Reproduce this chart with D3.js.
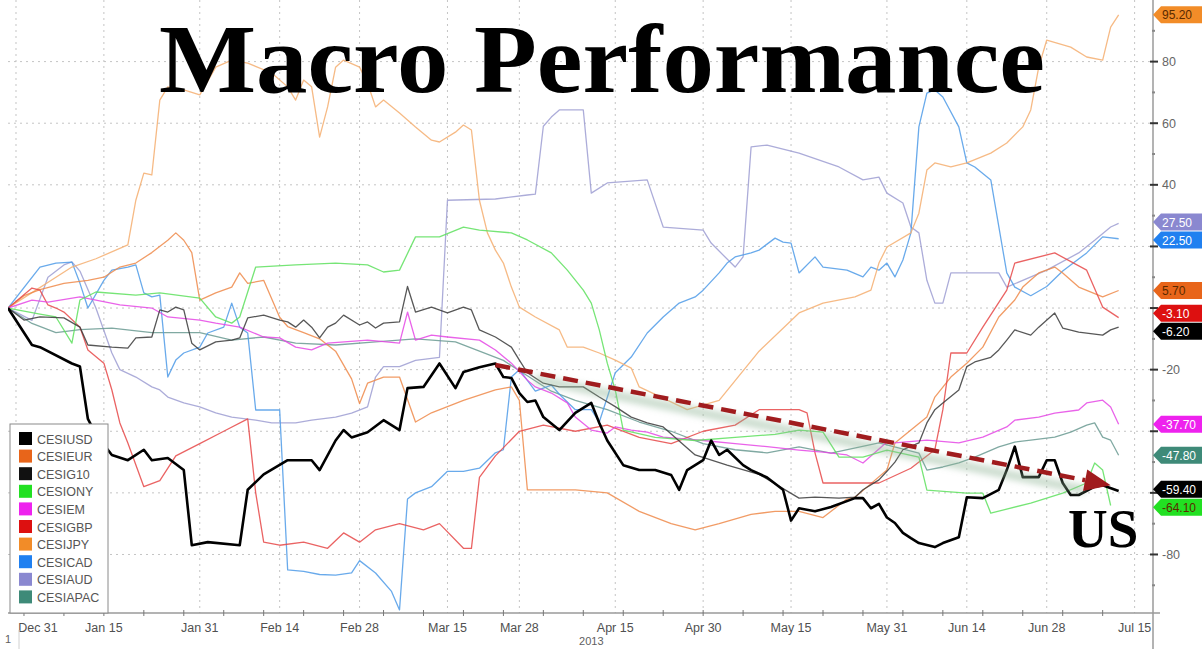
<!DOCTYPE html>
<html><head><meta charset="utf-8">
<script src="https://cdn.jsdelivr.net/npm/d3@7"></script>
<style>
html,body{margin:0;padding:0;background:#fff;}
svg{display:block;}
</style></head><body>
<svg id="chart" width="1202" height="649"></svg>
<script>
// ---------- DATA (t = trading days after Dec 31 2012, v = index value) ----------
const seriesNames = ["CESIUSD","CESIEUR","CESIG10","CESIONY","CESIEM","CESIGBP","CESIJPY","CESICAD","CESIAUD","CESIAPAC"];
const legendColors = ["#000000","#e8651a","#111111","#22e022","#ee22ee","#dd1010","#f28c28","#2080f0","#8a88d0","#3e8a78"];
const lineColors   = ["#000000","#ee8a4a","#3a3a3a","#5ee05e","#e548e5","#e64848","#f5ae70","#4f9be8","#9d9dd2","#6a9a92"];

const usd = [[-1,0],[2,-12],[3,-12.7],[7,-18],[8,-19],[9,-36],[10,-41],[12,-47.7],[14,-49.4],[16,-46],[17,-49.4],[19,-48.7],[21,-52.6],[22,-77],[24,-76],[28,-77],[29,-59],[31,-54],[34,-49.4],[37,-49.4],[38,-52.6],[40,-43],[41,-39.6],[42,-42],[44,-40.3],[46,-36.4],[47,-38],[48,-39.6],[49,-26],[51,-25.6],[53,-18],[55,-26],[56,-20.8],[58,-19.2],[60,-18],[61,-22.4],[62,-22.7],[63,-27.6],[64,-30.5],[65,-30],[66,-35.4],[68,-39.6],[70,-34],[72,-30.8],[73,-37.3],[74,-43],[76,-51],[78,-52.6],[80,-52.6],[82,-54.2],[83,-59],[84,-52.6],[86,-49.4],[87,-43],[88,-47.7],[89,-46],[91,-51],[92,-52.6],[94,-55],[96,-59],[97,-69],[98,-65],[100,-66],[102,-64.6],[105,-61.7],[106,-61.7],[107,-65],[108,-63.6],[109,-68],[110,-69.8],[111,-73],[112,-74.7],[113,-76.3],[115,-77.6],[116,-76.3],[118,-74.4],[119,-61.4],[121,-61.7],[123,-59],[124,-52.6],[125,-45],[126,-54.9],[128,-54.9],[129,-49.4],[130,-49.4],[131,-56.8],[132,-60.7],[133,-60.7],[135,-58],[136,-57.5],[138,-59.4]];
const eur = [[-1,0],[1,4],[3,6],[6,8],[9,9],[11,10],[13,13.3],[15,14.6],[17,18],[19,22],[20,24.4],[21,22],[22,18],[23,2.6],[25,4.9],[27,6.8],[28,11.4],[29,8],[31,9],[33,-3],[34,-6],[36,-8],[38,-10],[40,-14],[42,-23],[43,-31],[44,-24.4],[46,-22.4],[48,-22.4],[50,-37],[52,-34],[56,-30],[60,-26.6],[62,-25.6],[63,-30],[64,-59],[70,-59],[74,-60],[78,-66],[82,-70],[85,-72],[88,-70],[92,-67],[95,-66],[98,-66],[101,-68],[104,-62],[105,-61.4],[107,-57],[109,-52.6],[110,-43.8],[112,-39.6],[114,-35.4],[115,-28.9],[117,-22.4],[119,-17.9],[121,-12.7],[123,-2.9],[125,2.6],[126,6.8],[128,11.4],[130,13.3],[131,11.4],[133,6.8],[136,3.6],[138,5.7]];
const g10 = [[-1,0],[1,-3.9],[3,-2.9],[6,-3.2],[8,-6.2],[9,-12],[12,-12.7],[14,-13],[15,-9.7],[17,-9.4],[18,-0.6],[19,-1.3],[20,0.3],[21,-0.6],[22,-11.4],[23,-13.6],[25,-11],[27,-10.4],[28,-9.7],[29,-3.2],[31,-2.3],[33,-3.9],[34,-4.5],[35,-6.2],[36,-3.9],[37,-6.2],[38,-9.7],[39,-6.2],[40,-4.9],[41,-2.3],[43,-5.5],[44,-4.5],[45,-6.5],[46,-4.9],[48,-4.5],[49,7],[50,-1.3],[52,0.3],[54,-1.6],[56,0.3],[57,-0.6],[58,-7.1],[60,-9.4],[62,-12.7],[63,-16.9],[64,-21],[66,-24.4],[68,-25.6],[71,-25.6],[73,-28.9],[75,-32],[77,-35.4],[79,-37.3],[81,-38.6],[85,-47.7],[89,-51],[93,-54],[98,-61.7],[100,-61.4],[103,-61.7],[105,-61.4],[106,-59],[108,-55.8],[109,-53],[110,-50],[111,-46],[113,-43.8],[114,-37.3],[115,-33],[116,-30.8],[118,-26.6],[119,-19],[120,-17.5],[122,-16],[123,-13.6],[124,-10.4],[125,-7.1],[127,-8.8],[128,-6.2],[130,-1.6],[131,-6.5],[133,-7.8],[136,-8.8],[137,-7.1],[138,-6.2]];
const ony = [[-1,0],[1,-1],[3,-2],[5,-2.9],[7,-11.4],[8,2.6],[10,5.2],[15,4.2],[18,4.9],[23,3.2],[25,-2.9],[27,-4.9],[28,-2.9],[30,13.3],[35,14],[40,14.6],[44,14],[46,11.7],[48,12.3],[50,23.1],[53,23.1],[56,26.3],[58,25.3],[62,24.4],[64,22.1],[67,17.9],[69,12.3],[71,5.8],[72,1.6],[73,-7.1],[74,-17.9],[75,-26.6],[76,-39.6],[80,-42],[85,-43],[90,-42],[95,-41],[98,-39.6],[101,-40.3],[103,-48.4],[106,-48.4],[109,-46.1],[113,-48.4],[114,-59.1],[119,-60.1],[121,-60.1],[122,-66.6],[127,-63.3],[131,-60.1],[134,-56.8],[135,-50.3],[136,-52.6],[137,-64.1]];
const em = [[-1,0],[2,2.6],[4,1.9],[8,3.6],[10,2.6],[13,1],[17,0],[19,-2.9],[23,-3.9],[25,-4.9],[28,-6.2],[31,-9.4],[33,-9.7],[35,-12.7],[37,-13.6],[39,-11.4],[44,-10.4],[48,-11.4],[49,-1.3],[50,-10.4],[52,-8.8],[54,-9.4],[58,-10.4],[60,-13.6],[62,-17.9],[64,-23.4],[65,-25.6],[67,-27.6],[69,-30.8],[70,-35.4],[72,-39.6],[74,-40.6],[75,-38.6],[77,-39.6],[79,-40.3],[81,-41.9],[86,-43],[90,-44],[94,-45],[98,-46.1],[101,-46.8],[104,-47.7],[106,-50.3],[109,-43.5],[110,-43.8],[114,-42.9],[118,-43.8],[121,-41.9],[124,-38.6],[125,-36.4],[128,-35.4],[130,-34.1],[133,-33.1],[134,-30.8],[136,-29.9],[137,-32.1],[138,-37.7]];
const gbp = [[-1,0],[2,6.5],[3,5.8],[4,1],[5,0],[6,-1.3],[8,-6.2],[9,-13.6],[11,-17.9],[12,-26.6],[13,-37.3],[14,-43.8],[16,-58],[18,-56],[20,-48],[23,-44],[26,-40],[29,-36],[30,-60],[31,-76],[33,-77],[36,-76],[39,-78],[41,-73],[43,-76],[45,-72],[48,-70],[51,-72],[53,-70],[56,-78],[57,-78],[58,-55],[60,-48],[63,-40],[66,-38],[70,-40],[74,-38],[78,-42],[82,-44],[86,-40],[90,-38],[93,-33],[98,-33],[99,-34],[100,-47],[101,-56.8],[108,-56.8],[112,-52],[115,-46],[116,-33],[117,-14.6],[119,-14.6],[121,-6.2],[124,5.8],[125,14.6],[130,17.9],[134,12.3],[136,0.3],[138,-3.1]];
const jpy = [[-1,0],[2,5],[5,10],[7,13.3],[10,16],[14,20.5],[15,35],[16,43.8],[17,43.2],[18,67.5],[19,71.8],[21,70.8],[23,69.2],[25,78.2],[27,80.5],[29,79.5],[32,76.3],[34,71.8],[35,67.5],[36,74],[37,71.8],[38,55.5],[39,65.3],[40,78.2],[41,80.5],[43,78.2],[44,73],[45,65.3],[46,67.5],[48,63.3],[50,58.8],[52,54.5],[53,53.9],[55,57.1],[56,59.4],[57,57.8],[58,35],[59,24.4],[60,18.8],[61,14.6],[62,6.8],[63,0.3],[65,-2.9],[68,-7.1],[69,-12.7],[71,-12.7],[73,-14.6],[75,-16.9],[77,-19.5],[78,-25.6],[80,-28],[84,-33],[88,-30],[93,-14],[98,-1.6],[101,1.6],[105,3.6],[107,5.8],[108,14.6],[109,19.8],[112,24.4],[113,30.8],[114,44.8],[115,47.1],[117,45.8],[119,47.1],[122,50.3],[124,53.6],[126,58.8],[127,64.3],[128,78.2],[129,87],[132,84.7],[134,81.5],[136,80.5],[137,91.2],[138,95.2]];
const cad = [[-1,0],[3,13.3],[5,14.6],[7,14.9],[8,8.1],[9,0],[11,9],[12,12.3],[14,13.3],[15,14],[16,4.9],[17,3.6],[18,4.2],[19,-22.4],[20,-16.9],[21,-14.6],[23,-12.7],[24,-8.1],[26,-6.2],[27,1.6],[28,-6.2],[29,-8.1],[30,-33.1],[33,-33.1],[34,-85],[36,-85.5],[38,-86.5],[40,-86.7],[42,-86],[43,-82],[45,-86],[47,-92],[48,-98],[49,-62],[50,-60],[52,-58],[54,-53],[56,-53],[58,-52],[60,-47],[61,-46],[62,-22.4],[63,-20],[65,-27],[67,-25],[68,-28],[70,-33],[72,-33],[73,-37],[75,-21],[77,-15.9],[79,-8.1],[81,-2.9],[83,1.6],[85,3.6],[86,5.8],[88,11.4],[89,14.6],[90,16.6],[92,17.9],[93,18.8],[95,22.7],[96,21.4],[97,21.1],[98,11.4],[100,16.6],[101,13.3],[104,12.3],[106,10.1],[107,13.3],[108,12.3],[109,14.6],[110,10.1],[111,15.6],[112,24.4],[113,58.8],[114,69.8],[115,70.8],[116,68.5],[118,58.8],[119,47.1],[120,45.8],[122,41.6],[124,11.4],[125,6.8],[127,4],[129,7],[131,12],[134,17.9],[136,23.1],[138,22.5]];
const aud = [[-1,0],[2,-4],[4,10],[6,14],[7,15],[8,12],[10,0],[12,-14.6],[13,-20],[15,-22.4],[17,-25.6],[18,-26.6],[19,-28.9],[21,-30.8],[23,-32.1],[25,-34],[27,-35.4],[30,-36.4],[32,-37.3],[35,-37.3],[37,-36.4],[40,-35.4],[42,-34.1],[44,-32.1],[45,-22.4],[46,-19],[48,-19],[50,-17],[53,-16],[54,35],[60,35.4],[64,36.7],[65,37],[66,59],[67,62],[68,64.3],[71,64.3],[72,37.3],[74,40.6],[79,41.6],[81,26.3],[86,25.3],[87,21.1],[90,13.3],[91,16.6],[92,52.3],[94,52.9],[98,50.3],[103,45.8],[106,41.6],[108,42.5],[109,37.3],[111,34.1],[112,26.3],[113,24.4],[114,9],[115,1.6],[116,1.6],[117,11.4],[120,11.4],[123,11.4],[124,6.8],[129,12.3],[133,17.9],[135,22],[137,26.3],[138,27.5]];
const apac = [[-1,0],[2,-5],[5,-8],[8,-7],[12,-6.5],[17,-8],[23,-8],[27,-10.4],[31,-9.4],[35,-11.4],[40,-12],[45,-11],[50,-10],[55,-11],[58,-14],[61,-17],[64,-22],[67,-27],[70,-30],[74,-33],[78,-37],[82,-40],[86,-44],[90,-46],[94,-47],[98,-45.1],[102,-47.1],[108,-43.8],[113,-47.1],[114,-52.6],[116,-51.6],[118,-50.3],[120,-48.4],[123,-45.1],[125,-43.5],[127,-42.9],[130,-41.9],[132,-40.3],[134,-38],[135,-37.3],[136,-41.9],[137,-42.9],[138,-47.8]];
const seriesData = [usd, eur, g10, ony, em, gbp, jpy, cad, aud, apac];
const drawOrder = [8, 9, 7, 6, 1, 5, 4, 3, 2, 0];

// last-value tags on the right axis
const tagSeries = ["CESIJPY","CESIAUD","CESICAD","CESIEUR","CESIGBP","CESIG10","CESIEM","CESIAPAC","CESIUSD","CESIONY"];
const tagValues = [95.20, 27.50, 22.50, 5.70, -3.10, -6.20, -37.70, -47.80, -59.40, -64.10];

const xTickDays   = [0, 11, 23, 33, 43, 54, 63, 75, 86, 97, 109, 119, 129, 140];
const xTickLabels = ["Dec 31","Jan 15","Jan 31","Feb 14","Feb 28","Mar 15","Mar 28","Apr 15","Apr 30","May 15","May 31","Jun 14","Jun 28","Jul 15"];
const yTicks = [80, 60, 40, 20, 0, -20, -40, -60, -80];
const trendFrom = [60, -18.5];
const trendTo = [137, -57.5];

// ---------- CHART ----------
const svg = d3.select("#chart");
const x = d3.scaleLinear().domain([-1, 142.3]).range([8, 1153]);
const y = d3.scaleLinear().domain([-99, 100]).range([613, 0]);

const defs = svg.append("defs");
defs.append("clipPath").attr("id","plotclip").append("rect")
  .attr("x", 8).attr("y", 0).attr("width", 1145).attr("height", 613);
defs.append("filter").attr("id","blur").attr("x","-10%").attr("y","-50%").attr("width","120%").attr("height","200%")
  .append("feGaussianBlur").attr("stdDeviation", 3);

// gridlines
const grid = svg.append("g").attr("stroke", "#c4c4c4").attr("stroke-width", 1).attr("stroke-dasharray", "2,4");
grid.selectAll("line.v").data(xTickDays).join("line")
  .attr("x1", d => x(d)).attr("x2", d => x(d)).attr("y1", 0).attr("y2", 613);
grid.selectAll("line.h").data(yTicks).join("line")
  .attr("x1", 8).attr("x2", 1153).attr("y1", d => y(d)).attr("y2", d => y(d));

// series lines
const lineGen = d3.line().x(d => x(d[0])).y(d => y(d[1]));
const lines = svg.append("g").attr("clip-path", "url(#plotclip)");
drawOrder.forEach(i => {
  lines.append("path").datum(seriesData[i])
    .attr("fill", "none")
    .attr("stroke", lineColors[i])
    .attr("stroke-width", i === 0 ? 2.6 : 1.3)
    .attr("stroke-opacity", i === 0 ? 1 : 0.85)
    .attr("stroke-linejoin", "round")
    .attr("d", lineGen);
});

// trend arrow with soft shadow
const ax1 = x(trendFrom[0]), ay1 = y(trendFrom[1]), ax2 = x(trendTo[0]), ay2 = y(trendTo[1]);
const ang = Math.atan2(ay2 - ay1, ax2 - ax1);
const headLen = 26, headW = 11;
const bx = ax2 - headLen * Math.cos(ang), by = ay2 - headLen * Math.sin(ang);
svg.append("line").attr("x1", ax1 + 40).attr("y1", ay1 + 14).attr("x2", bx).attr("y2", by + 10)
  .attr("stroke", "#8fb394").attr("stroke-opacity", 0.45).attr("stroke-width", 9).attr("filter", "url(#blur)");
svg.append("line").attr("x1", ax1).attr("y1", ay1).attr("x2", bx).attr("y2", by)
  .attr("stroke", "#a01c1e").attr("stroke-width", 4.5).attr("stroke-dasharray", "15,8");
svg.append("path")
  .attr("d", `M${ax2},${ay2} L${bx - headW * Math.sin(ang)},${by + headW * Math.cos(ang)} L${bx + headW * Math.sin(ang)},${by - headW * Math.cos(ang)} Z`)
  .attr("fill", "#a01c1e");

// bottom axis
const axisCol = "#9a9a9a";
const sans = "Liberation Sans, Arial, sans-serif";
svg.append("line").attr("x1", 8).attr("x2", 1160).attr("y1", 613).attr("y2", 613).attr("stroke", axisCol).attr("stroke-width", 1.5);
svg.append("g").selectAll("line").data(d3.range(1, 141, 5)).join("line")
  .attr("x1", d => x(d)).attr("x2", d => x(d)).attr("y1", 610).attr("y2", 616).attr("stroke", "#777").attr("stroke-width", 1);
svg.append("g").selectAll("text").data(xTickDays).join("text")
  .attr("x", (d, i) => i === 0 ? x(d) + 22 : x(d)).attr("y", 632)
  .attr("text-anchor", "middle").attr("font-family", sans).attr("font-size", 12.5)
  .attr("fill", "#505050").text((d, i) => xTickLabels[i]);
svg.append("text").attr("x", (x(75) + x(63)) / 2 + 24).attr("y", 645).attr("text-anchor", "middle")
  .attr("font-family", sans).attr("font-size", 11).attr("fill", "#606060").text("2013");
svg.append("text").attr("x", 5).attr("y", 643).attr("font-family", sans).attr("font-size", 11).attr("fill", "#606060").text("1");
svg.append("line").attr("x1", 19).attr("x2", 19).attr("y1", 630).attr("y2", 649).attr("stroke", "#d0d0d0");

// tags: resolve overlaps first
const tagData = tagSeries.map((s, i) => ({ s, v: tagValues[i], yy: y(tagValues[i]) })).sort((a, b) => a.yy - b.yy);
for (let it = 0; it < 60; it++) {
  for (let i = 1; i < tagData.length; i++) {
    const d = tagData[i].yy - tagData[i - 1].yy;
    if (d < 18) { const s = (18 - d) / 2; tagData[i].yy += s; tagData[i - 1].yy -= s; }
  }
}

// right axis
svg.append("line").attr("x1", 1153).attr("x2", 1153).attr("y1", 0).attr("y2", 649).attr("stroke", axisCol).attr("stroke-width", 1.5);
svg.append("g").selectAll("line").data(d3.range(-90, 100, 10)).join("line")
  .attr("x1", d => d % 20 === 0 ? 1150 : 1152).attr("x2", d => d % 20 === 0 ? 1158 : 1155)
  .attr("y1", d => y(d)).attr("y2", d => y(d))
  .attr("stroke", d => d % 20 === 0 ? "#333" : "#888").attr("stroke-width", 2);
// labels that sit under a value tag are covered in the original, so leave them out
const visibleYTicks = yTicks.filter(v => !tagData.some(t => Math.abs(t.yy - y(v)) < 15));
svg.append("g").selectAll("text").data(visibleYTicks).join("text")
  .attr("x", 1162).attr("y", d => y(d) + 4.5)
  .attr("font-family", sans).attr("font-size", 12.5).attr("fill", "#666")
  .text(d => d);

const darkText = new Set(["CESIJPY","CESIEUR","CESIONY"]);
const tg = svg.append("g");
tagData.forEach(t => {
  const c = legendColors[seriesNames.indexOf(t.s)];
  tg.append("path")
    .attr("d", `M1153,${t.yy} L1161,${t.yy - 8.5} L1210,${t.yy - 8.5} L1210,${t.yy + 8.5} L1161,${t.yy + 8.5} Z`)
    .attr("fill", c === "#111111" ? "#000" : c);
  tg.append("text").attr("x", 1162).attr("y", t.yy + 4.5)
    .attr("font-family", sans).attr("font-size", 12)
    .attr("fill", darkText.has(t.s) ? "#5a2a00" : "#fff")
    .text(t.v.toFixed(2));
});

// legend
const lg = svg.append("g");
lg.append("rect").attr("x", 10).attr("y", 424).attr("width", 98).attr("height", 189).attr("fill", "#fff").attr("stroke", "#8a8a8a");
seriesNames.forEach((n, i) => {
  lg.append("rect").attr("x", 19).attr("y", 432 + i * 17.6).attr("width", 13).attr("height", 13).attr("fill", legendColors[i]);
  lg.append("text").attr("x", 37).attr("y", 443.5 + i * 17.6)
    .attr("font-family", sans).attr("font-size", 12.5).attr("fill", "#555").text(n);
});

// title and annotation
svg.append("text").attr("x", 159).attr("y", 92)
  .attr("font-family", "Liberation Serif, Times New Roman, serif").attr("font-weight", "bold").attr("font-size", 98)
  .attr("textLength", 886).attr("lengthAdjust", "spacingAndGlyphs")
  .attr("fill", "#000").text("Macro Performance");
svg.append("text").attr("x", 1068).attr("y", 547)
  .attr("font-family", "Liberation Serif, Times New Roman, serif").attr("font-weight", "bold").attr("font-size", 55)
  .attr("fill", "#000").text("US");
</script>
</body></html>
